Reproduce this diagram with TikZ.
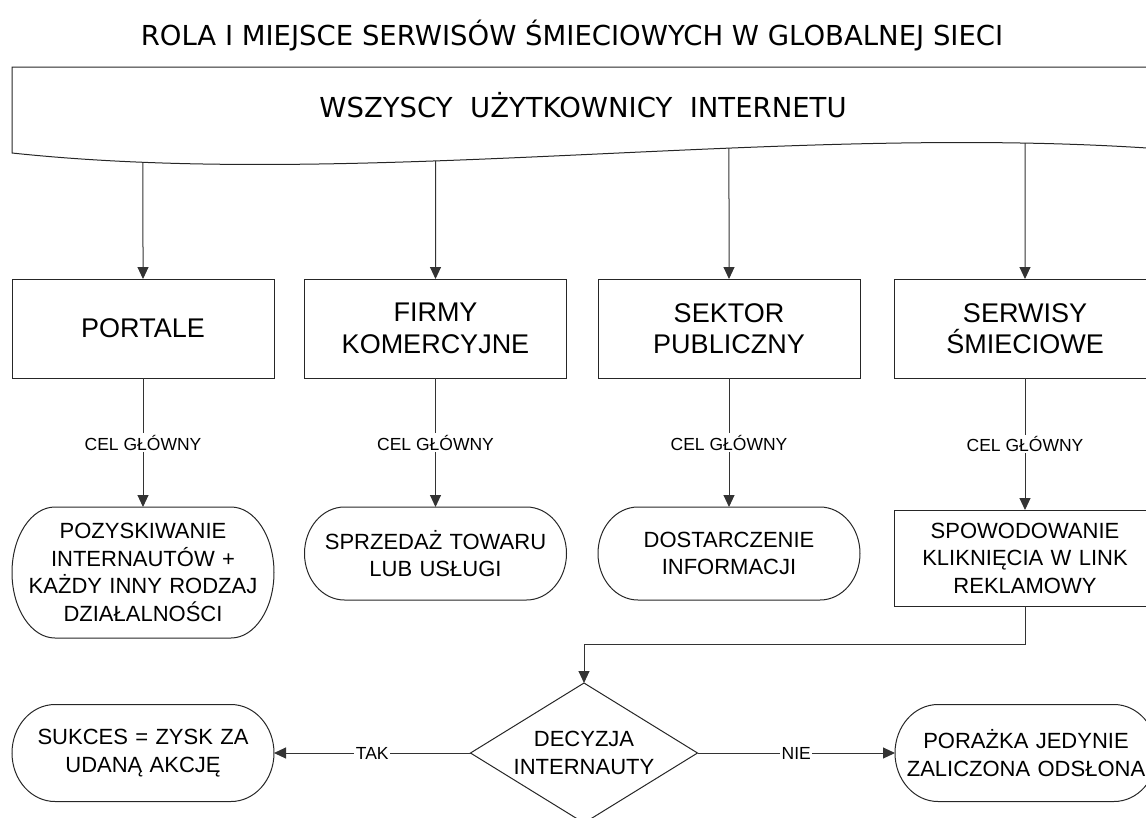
\documentclass[tikz,border=0pt]{standalone}
\usepackage{fontspec}
\setmainfont{Liberation Sans}
\newfontfamily\headfont{DejaVu Sans}
\usetikzlibrary{arrows.meta,shapes.geometric,intersections,calc}

% Terminator outline (flat top and bottom, half-elliptic ends) round a named node
\newcommand\termframe[2]{%
  \draw[frame] let \p1=(#1.north), \p2=(#1.south), \n1={(\y1-\y2)/2} in
    ([xshift=#2]#1.north west) -- ([xshift=-#2]#1.north east)
    arc[start angle=90, end angle=-90, x radius=#2, y radius=\n1]
    -- ([xshift=#2]#1.south west)
    arc[start angle=270, end angle=90, x radius=#2, y radius=\n1] -- cycle;}

\tikzset{
  frame/.style={draw=black!85, line width=1pt},
  conn/.style={draw=black!80, line width=1pt, -{Triangle[length=12pt,width=11pt]}},
  headbox/.style={draw=black!85, line width=1pt, minimum width=262pt,
    minimum height=99pt, text width=250pt, align=center, inner sep=0pt,
    outer sep=0pt, font=\fontsize{27}{31.5}\selectfont},
  aimtext/.style={minimum width=262pt, text width=250pt, align=center,
    inner sep=0pt, outer sep=0pt, font=\fontsize{22}{27.5}\selectfont},
  aimbox/.style={aimtext, draw=black!85, line width=1pt},
  celtag/.style={fill=white, inner sep=1.5pt, font=\fontsize{17.5}{20}\selectfont},
  choice/.style={diamond, draw=black!85, line width=1pt, minimum width=227pt,
    minimum height=140pt, aspect=1.62, inner sep=0pt, outer sep=0pt,
    align=center, font=\fontsize{22}{27.5}\selectfont},
  headline/.style={font=\headfont\fontsize{27.5}{30}\selectfont}
}

\begin{document}
\begin{tikzpicture}[x=1pt, y=-1pt]
\useasboundingbox (0,0) rectangle (1146,817);
\clip (0,0) rectangle (1146,817);

% title
\node[headline] (title) at (572,35) {ROLA I MIEJSCE SERWISÓW ŚMIECIOWYCH W GLOBALNEJ SIECI};

% banner with wavy lower edge
\draw[frame, name path=wave] (1170,67) -- (12,67) -- (12,153)
  .. controls (380,192) and (820,116) .. (1210,153);
\node[headline] (crowd) at (583,105) {WSZYSCY\ \ UŻYTKOWNICY\ \ INTERNETU};

% sectors
\node[headbox] (portal) at (143,328.5) {PORTALE};
\node[headbox] (firm) at (435.5,328.5) {FIRMY\\KOMERCYJNE};
\node[headbox] (pub) at (729,328.5) {SEKTOR\\PUBLICZNY};
\node[headbox] (spam) at (1025,328.5) {SERWISY\\ŚMIECIOWE};

% main goals
\node[aimtext, minimum height=131pt] (aim-portal) at (143,572.5)
  {POZYSKIWANIE\\INTERNAUTÓW +\\KAŻDY INNY RODZAJ\\DZIAŁALNOŚCI};
\node[aimtext, minimum height=93pt] (aim-firm) at (435.5,553.5)
  {SPRZEDAŻ TOWARU\\LUB USŁUGI};
\node[aimtext, minimum height=93pt] (aim-pub) at (729,553.5)
  {DOSTARCZENIE\\INFORMACJI};
\node[aimbox, minimum height=96pt] (aim-spam) at (1025,558)
  {SPOWODOWANIE\\KLIKNIĘCIA W LINK\\REKLAMOWY};
\termframe{aim-portal}{43pt}
\termframe{aim-firm}{40pt}
\termframe{aim-pub}{40pt}

% banner to sectors, sectors to goals
\foreach \n in {portal,firm,pub,spam} {
  \path[name path=col-\n] (\n.north) -- ++(0,-200);
  \path[name intersections={of=wave and col-\n, by=top-\n}];
  \draw[conn] (top-\n) -- (\n.north);
  \draw[conn] (\n.south) -- node[celtag] {CEL GŁÓWNY} (aim-\n.north);
}

% decision and its outcomes
\node[choice] (dec) at (584,753) {DECYZJA\\INTERNAUTY};
\draw[conn] (aim-spam.south) -- ++(0,38) -| (dec.north);

\node[aimtext, minimum height=97pt] (win) at (143,753) {SUKCES = ZYSK ZA\\UDANĄ AKCJĘ};
\node[aimtext, minimum height=97pt] (loss) at (1026,753) {PORAŻKA JEDYNIE\\ZALICZONA ODSŁONA};
\termframe{win}{43pt}
\termframe{loss}{43pt}

\draw[conn] (dec.west) -- node[celtag] {TAK} (win.east);
\draw[conn] (dec.east) -- node[celtag] {NIE} (loss.west);
\end{tikzpicture}
\end{document}
